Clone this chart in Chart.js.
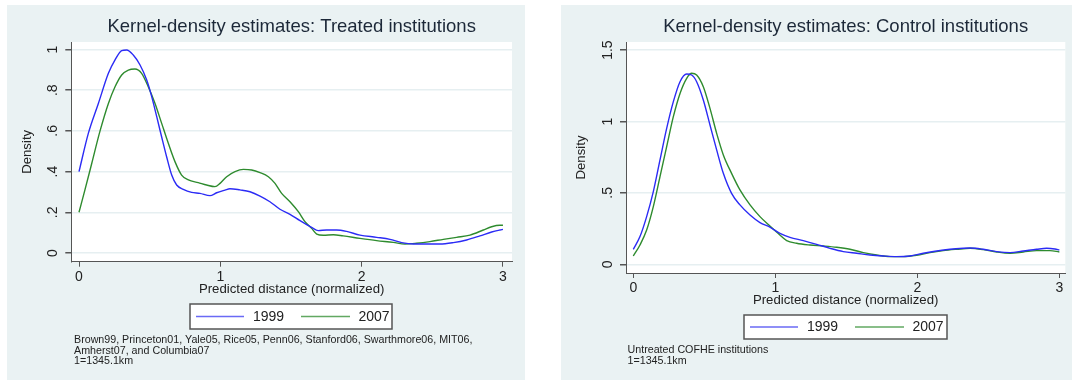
<!DOCTYPE html>
<html>
<head>
<meta charset="utf-8">
<script src="https://cdn.jsdelivr.net/npm/chart.js@4.4.1/dist/chart.umd.min.js"></script>
<style>
  html, body { margin: 0; padding: 0; background: #fff; }
  body { width: 1072px; height: 381px; position: relative; overflow: hidden; }
  canvas { position: absolute; }
  #treated { left: 7px; top: 5px; }
  #control { left: 561px; top: 5px; }
</style>
</head>
<body>
<canvas id="treated" width="518" height="375"></canvas>
<canvas id="control" width="511" height="375"></canvas>
<script>
// values
const seriesNames = ['1999', '2007'];
const xTicks = [0, 1, 2, 3];

const treatedYTicks = [0, 0.2, 0.4, 0.6, 0.8, 1];
const treatedYLabels = ['0', '.2', '.4', '.6', '.8', '1'];
const controlYTicks = [0, 0.5, 1, 1.5];
const controlYLabels = ['0', '.5', '1', '1.5'];

const treatedX1999 = [0, 0.066, 0.137, 0.208, 0.255, 0.302, 0.337, 0.384, 0.432, 0.479, 0.514, 0.55, 0.585, 0.62, 0.656, 0.691, 0.738, 0.797, 0.856, 0.927, 0.974, 1.033, 1.068, 1.139, 1.21, 1.281, 1.351, 1.422, 1.493, 1.564, 1.646, 1.693, 1.752, 1.823, 1.894, 1.988, 2.106, 2.2, 2.283, 2.366, 2.46, 2.554, 2.649, 2.743, 2.837, 2.92, 2.979, 3];
const treatedY1999 = [0.40, 0.588, 0.735, 0.883, 0.949, 0.995, 0.998, 0.973, 0.924, 0.85, 0.77, 0.67, 0.57, 0.473, 0.383, 0.334, 0.313, 0.298, 0.293, 0.282, 0.296, 0.309, 0.316, 0.31, 0.301, 0.28, 0.252, 0.215, 0.19, 0.159, 0.126, 0.11, 0.113, 0.113, 0.106, 0.088, 0.077, 0.067, 0.051, 0.044, 0.044, 0.044, 0.051, 0.064, 0.084, 0.103, 0.113, 0.116];

const treatedX2007 = [0, 0.042, 0.09, 0.149, 0.208, 0.255, 0.302, 0.349, 0.396, 0.443, 0.49, 0.538, 0.585, 0.632, 0.679, 0.726, 0.774, 0.844, 0.903, 0.962, 0.998, 1.045, 1.104, 1.163, 1.222, 1.281, 1.34, 1.387, 1.434, 1.493, 1.552, 1.599, 1.646, 1.682, 1.729, 1.8, 1.87, 1.988, 2.106, 2.224, 2.307, 2.389, 2.483, 2.578, 2.672, 2.767, 2.861, 2.92, 2.979, 3];
const treatedY2007 = [0.20, 0.31, 0.44, 0.60, 0.735, 0.817, 0.875, 0.899, 0.904, 0.883, 0.817, 0.735, 0.637, 0.539, 0.449, 0.383, 0.359, 0.346, 0.334, 0.326, 0.342, 0.375, 0.40, 0.411, 0.408, 0.395, 0.375, 0.342, 0.293, 0.252, 0.203, 0.154, 0.121, 0.093, 0.087, 0.09, 0.084, 0.072, 0.061, 0.052, 0.044, 0.048, 0.056, 0.067, 0.077, 0.088, 0.113, 0.129, 0.136, 0.136];

const controlX1999 = [0, 0.047, 0.094, 0.141, 0.188, 0.235, 0.282, 0.329, 0.376, 0.411, 0.446, 0.493, 0.54, 0.587, 0.634, 0.692, 0.751, 0.822, 0.892, 0.962, 1.033, 1.103, 1.197, 1.291, 1.385, 1.479, 1.573, 1.667, 1.761, 1.854, 1.948, 2.042, 2.136, 2.23, 2.324, 2.371, 2.465, 2.559, 2.653, 2.746, 2.84, 2.911, 2.969, 3];
const controlY1999 = [0.105, 0.194, 0.334, 0.509, 0.731, 0.952, 1.139, 1.279, 1.333, 1.326, 1.279, 1.151, 0.976, 0.801, 0.637, 0.497, 0.416, 0.345, 0.292, 0.26, 0.217, 0.189, 0.166, 0.14, 0.112, 0.089, 0.077, 0.065, 0.058, 0.054, 0.058, 0.077, 0.093, 0.105, 0.112, 0.114, 0.105, 0.089, 0.082, 0.093, 0.105, 0.112, 0.107, 0.10];

const controlX2007 = [0, 0.047, 0.094, 0.141, 0.188, 0.235, 0.282, 0.329, 0.376, 0.411, 0.446, 0.493, 0.54, 0.587, 0.634, 0.692, 0.751, 0.822, 0.892, 0.962, 1.021, 1.08, 1.15, 1.244, 1.338, 1.432, 1.526, 1.62, 1.714, 1.808, 1.901, 1.995, 2.089, 2.183, 2.277, 2.371, 2.465, 2.559, 2.653, 2.746, 2.84, 2.934, 3];
const controlY2007 = [0.058, 0.135, 0.24, 0.404, 0.614, 0.824, 1.034, 1.197, 1.303, 1.338, 1.326, 1.244, 1.092, 0.917, 0.766, 0.637, 0.521, 0.416, 0.334, 0.268, 0.215, 0.166, 0.147, 0.135, 0.128, 0.119, 0.105, 0.082, 0.065, 0.054, 0.054, 0.063, 0.082, 0.096, 0.105, 0.112, 0.103, 0.086, 0.077, 0.086, 0.096, 0.096, 0.086];

const BLUE = '#2b2bf5';
const GREEN = '#2e8b2e';
const FONT = '"Liberation Sans", Arial, Helvetica, sans-serif';

const toPoints = (xs, ys) => xs.map((x, i) => ({ x: x, y: ys[i] }));

// panel decorations: backgrounds, titles, rotated y labels, legend, notes
const panelPlugin = {
  id: 'panel',
  beforeDraw(chart, args, opts) {
    const { ctx, chartArea: a } = chart;
    ctx.save();
    ctx.fillStyle = '#eaf2f3';
    ctx.fillRect(0, 0, chart.width, chart.height);
    ctx.fillStyle = '#fff';
    ctx.fillRect(a.left, a.top, a.right - a.left, a.bottom - a.top);
    ctx.restore();
  },
  afterDraw(chart, args, opts) {
    const { ctx, chartArea: a } = chart;
    const cx = (a.left + a.right) / 2;
    const cy = (a.top + a.bottom) / 2;
    ctx.save();
    ctx.textAlign = 'center';
    ctx.textBaseline = 'middle';

    ctx.fillStyle = '#1c2838';
    ctx.font = '18.5px ' + FONT;
    ctx.fillText(opts.title, cx, 22);

    ctx.fillStyle = '#222';
    ctx.font = '13.2px ' + FONT;
    ctx.fillText('Predicted distance (normalized)', cx, opts.xTitleY);

    ctx.save();
    ctx.translate(opts.yTitleX, cy);
    ctx.rotate(-Math.PI / 2);
    ctx.fillText('Density', 0, 0);
    ctx.restore();

    const ys = chart.scales.y;
    ctx.font = '14px ' + FONT;
    opts.yTicks.forEach((v, i) => {
      ctx.save();
      ctx.translate(opts.yLabelX, ys.getPixelForValue(v));
      ctx.rotate(-Math.PI / 2);
      ctx.fillText(opts.yLabels[i], 0, 0);
      ctx.restore();
    });

    // legend
    const L = opts.legend;
    ctx.fillStyle = '#fff';
    ctx.fillRect(L.x, L.y, L.w, L.h);
    ctx.strokeStyle = '#555';
    ctx.lineWidth = 1.5;
    ctx.strokeRect(L.x, L.y, L.w, L.h);
    const my = L.y + L.h / 2;
    const colors = ['#6a6af5', '#62a862'];
    const offs = [[6, 54, 78.5], [111, 160, 184]];
    chart.data.datasets.forEach((ds, i) => {
      ctx.strokeStyle = colors[i];
      ctx.lineWidth = 1.5;
      ctx.beginPath();
      ctx.moveTo(L.x + offs[i][0], my);
      ctx.lineTo(L.x + offs[i][1], my);
      ctx.stroke();
      ctx.fillStyle = '#222';
      ctx.font = '14px ' + FONT;
      ctx.fillText(ds.label, L.x + offs[i][2], my + 0.5);
    });

    // notes
    ctx.textAlign = 'left';
    ctx.fillStyle = '#222';
    ctx.font = '10.7px ' + FONT;
    opts.notes.forEach((t, i) => ctx.fillText(t, opts.notesX, opts.notesY + i * 10.6));
    ctx.restore();
  }
};

function makePanel(id, cfg) {
  return new Chart(document.getElementById(id), {
    type: 'line',
    data: {
      datasets: [
        { label: seriesNames[0], data: toPoints(cfg.x1, cfg.y1), borderColor: BLUE },
        { label: seriesNames[1], data: toPoints(cfg.x2, cfg.y2), borderColor: GREEN }
      ]
    },
    options: {
      responsive: false,
      animation: false,
      devicePixelRatio: 1,
      layout: { padding: cfg.padding },
      elements: {
        point: { radius: 0 },
        line: { borderWidth: 1.4, cubicInterpolationMode: 'monotone', fill: false }
      },
      plugins: {
        legend: { display: false },
        title: { display: false },
        tooltip: { enabled: false },
        panel: cfg.panel
      },
      scales: {
        x: {
          type: 'linear',
          min: cfg.xMin, max: cfg.xMax,
          afterBuildTicks: s => { s.ticks = xTicks.map(v => ({ value: v })); },
          afterFit: s => { s.height = 30; },
          ticks: { color: '#222', font: { family: FONT, size: 14 }, padding: 2, maxRotation: 0, callback: v => String(v) },
          grid: { drawOnChartArea: false, drawTicks: true, tickLength: 5, color: '#555', tickColor: '#555' },
          border: { color: '#555', width: 1 }
        },
        y: {
          type: 'linear',
          min: cfg.yMin, max: cfg.yMax,
          afterBuildTicks: s => { s.ticks = cfg.panel.yTicks.map(v => ({ value: v })); },
          afterFit: s => { s.width = 10; },
          ticks: { display: false },
          grid: { color: '#e6eff1', lineWidth: 1.5, drawTicks: true, tickLength: 6, tickColor: '#555' },
          border: { color: '#555', width: 1 }
        }
      }
    },
    plugins: [panelPlugin]
  });
}

makePanel('treated', {
  x1: treatedX1999, y1: treatedY1999, x2: treatedX2007, y2: treatedY2007,
  xMin: -0.0545, xMax: 3.064, yMin: -0.0428, yMax: 1.037,
  padding: { left: 54.3, right: 13, top: 37, bottom: 88.3 },
  panel: {
    title: 'Kernel-density estimates: Treated institutions',
    yTicks: treatedYTicks, yLabels: treatedYLabels,
    yTitleX: 20.5, yLabelX: 46, xTitleY: 284,
    legend: { x: 183, y: 299, w: 202, h: 25 },
    notes: ['Brown99, Princeton01, Yale05, Rice05, Penn06, Stanford06, Swarthmore06, MIT06,', 'Amherst07, and Columbia07', '1=1345.1km'],
    notesX: 67, notesY: 335
  }
});

makePanel('control', {
  x1: controlX1999, y1: controlY1999, x2: controlX2007, y2: controlY2007,
  xMin: -0.0514, xMax: 3.042, yMin: -0.061, yMax: 1.557,
  padding: { left: 55, right: 6.7, top: 37, bottom: 77 },
  panel: {
    title: 'Kernel-density estimates: Control institutions',
    yTicks: controlYTicks, yLabels: controlYLabels,
    yTitleX: 20, yLabelX: 47, xTitleY: 295,
    legend: { x: 183, y: 310, w: 203, h: 24 },
    notes: ['Untreated COFHE institutions', '1=1345.1km'],
    notesX: 66.5, notesY: 345
  }
});
</script>
</body>
</html>
